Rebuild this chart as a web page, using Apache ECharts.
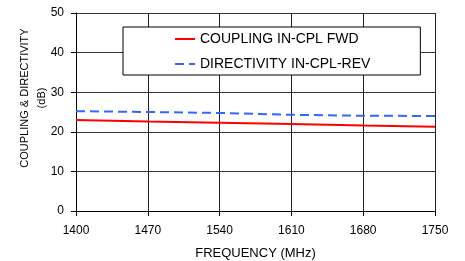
<!DOCTYPE html>
<html>
<head>
<meta charset="utf-8">
<script src="https://cdn.jsdelivr.net/npm/echarts@6/dist/echarts.min.js"></script>
<style>
  html, body { margin: 0; padding: 0; background: #fff; }
  #chart { width: 465px; height: 261px; }
</style>
</head>
<body>
<div id="chart"></div>
<script>
// 频率 (MHz)
const freqs = [1400, 1470, 1540, 1610, 1680, 1750]
const coupling = [23.0, 22.6, 22.3, 21.95, 21.6, 21.3]
const directivity = [25.2, 25.0, 24.75, 24.3, 24.05, 24.0]

const font = 'Liberation Sans, Arial, sans-serif'

const option = {
  animation: false,
  grid: { left: 76, right: 30, top: 13, bottom: 50, outerBoundsMode: 'none' },
  legend: {
    orient: 'vertical',
    left: 123,
    top: 27,
    padding: [5, 50, 4, 51],
    itemGap: 11,
    itemWidth: 20,
    itemHeight: 14,
    backgroundColor: '#fff',
    borderColor: '#000',
    borderWidth: 1,
    borderRadius: 0,
    itemStyle: { opacity: 0 },
    textStyle: { fontFamily: font, fontSize: 14, color: '#000' },
    data: ['COUPLING IN-CPL FWD', 'DIRECTIVITY IN-CPL-REV']
  },
  xAxis: {
    type: 'value',
    min: 1400,
    max: 1750,
    interval: 70,
    name: 'FREQUENCY (MHz)',
    nameLocation: 'middle',
    nameGap: 36,
    nameMoveOverlap: false,
    nameTextStyle: { fontFamily: font, fontSize: 13, color: '#000' },
    axisLine: { show: true, lineStyle: { color: '#000', width: 1 } },
    axisTick: { show: true, length: 5, lineStyle: { color: '#000' } },
    axisLabel: { fontFamily: font, fontSize: 12, color: '#000', margin: 14, formatter: v => String(v) },
    splitLine: { show: true, lineStyle: { color: '#222', width: 1 } }
  },
  yAxis: {
    type: 'value',
    min: 0,
    max: 50,
    interval: 10,
    name: 'COUPLING & DIRECTIVITY\n(dB)',
    nameLocation: 'middle',
    nameGap: 26,
    nameMoveOverlap: false,
    nameRotate: 90,
    nameTextStyle: { fontFamily: font, fontSize: 11, color: '#000', lineHeight: 17, padding: [0, 0, 0, 28] },
    axisLine: { show: true, lineStyle: { color: '#000', width: 1 } },
    axisTick: { show: true, length: 5, lineStyle: { color: '#000' } },
    axisLabel: { fontFamily: font, fontSize: 12, color: '#000', margin: 12 },
    splitLine: { show: true, lineStyle: { color: '#333', width: 1 } }
  },
  series: [
    {
      name: 'COUPLING IN-CPL FWD',
      type: 'line',
      data: freqs.map((f, i) => [f, coupling[i]]),
      symbol: 'none',
      lineStyle: { color: '#ff0000', width: 2 },
      itemStyle: { color: '#ff0000' }
    },
    {
      name: 'DIRECTIVITY IN-CPL-REV',
      type: 'line',
      data: freqs.map((f, i) => [f, directivity[i]]),
      symbol: 'none',
      lineStyle: { color: '#3366ff', width: 2, type: [9, 5] },
      itemStyle: { color: '#3366ff' }
    }
  ]
}

const chart = echarts.init(document.getElementById('chart'))
chart.setOption(option)
</script>
</body>
</html>
